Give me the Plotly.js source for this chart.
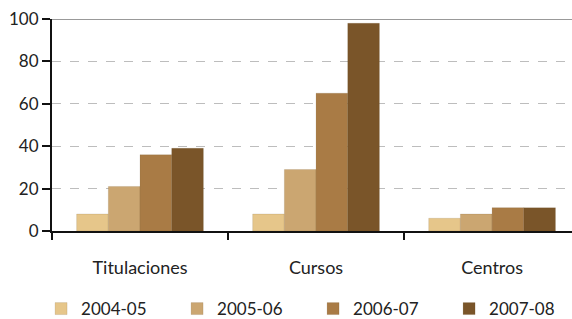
<!DOCTYPE html>
<html>
<head>
<meta charset="utf-8">
<script src="https://cdn.plot.ly/plotly-3.0.1.min.js"></script>
<style>html,body{margin:0;padding:0;background:#fff;}#chart{width:572px;height:319px;}</style>
</head>
<body>
<div id="chart"></div>
<script>
const categories = ["Titulaciones", "Cursos", "Centros"];
const seriesNames = ["2004-05", "2005-06", "2006-07", "2007-08"];
const v2004 = [8, 8, 6];
const v2005 = [21, 29, 8];
const v2006 = [36, 65, 11];
const v2007 = [39, 98, 11];
const yTicks = [0, 20, 40, 60, 80, 100];

const colors = ["#E6C68A", "#CBA671", "#A97B45", "#7A5529"];
const values = [v2004, v2005, v2006, v2007];

const traces = seriesNames.map((name, i) => ({
  type: "bar",
  name: name,
  x: categories,
  y: values[i],
  marker: {color: colors[i], line: {color: "rgba(90,60,20,0.25)", width: 0.5}},
  hoverinfo: "x+y+name"
}));

const fam = "Lato, 'Open Sans', sans-serif";

const layout = {
  width: 572, height: 319,
  margin: {l: 52, r: 0, t: 19, b: 88, autoexpand: false},
  paper_bgcolor: "#fff", plot_bgcolor: "#fff",
  font: {family: fam, size: 17, color: "#222"},
  barmode: "group",
  bargap: 0.28, bargroupgap: 0,
  showlegend: true,
  legend: {
    orientation: "h",
    x: -0.021, xanchor: "left", y: -0.368, yanchor: "middle",
    entrywidth: 91, entrywidthmode: "pixels",
    font: {family: fam, size: 17, color: "#222"},
    itemwidth: 30, tracegroupgap: 0, traceorder: "normal"
  },
  xaxis: {
    type: "category",
    range: [-0.5, 2.454],
    showline: true, linecolor: "#111", linewidth: 2,
    ticks: "outside", tickson: "boundaries", ticklen: 7, tickwidth: 2, tickcolor: "#111",
    ticklabelstandoff: 19,
    tickfont: {family: fam, size: 18, color: "#222"},
    showgrid: false, zeroline: false, fixedrange: true
  },
  yaxis: {
    range: [0, 100],
    tickvals: yTicks,
    ticktext: yTicks.map(String),
    showline: true, linecolor: "#111", linewidth: 2,
    ticks: "outside", ticklen: 8, tickwidth: 2, tickcolor: "#111",
    tickfont: {family: fam, size: 17, color: "#222"},
    showgrid: true, gridcolor: "#bdbdbd", gridwidth: 1, griddash: "dash",
    zeroline: false, fixedrange: true
  },
  shapes: [{
    type: "line", xref: "paper", yref: "y", x0: 0, x1: 1, y0: 100, y1: 100,
    line: {color: "#999", width: 2}, layer: "above"
  }]
};

Plotly.newPlot("chart", traces, layout, {displayModeBar: false, staticPlot: true});
</script>
</body>
</html>
